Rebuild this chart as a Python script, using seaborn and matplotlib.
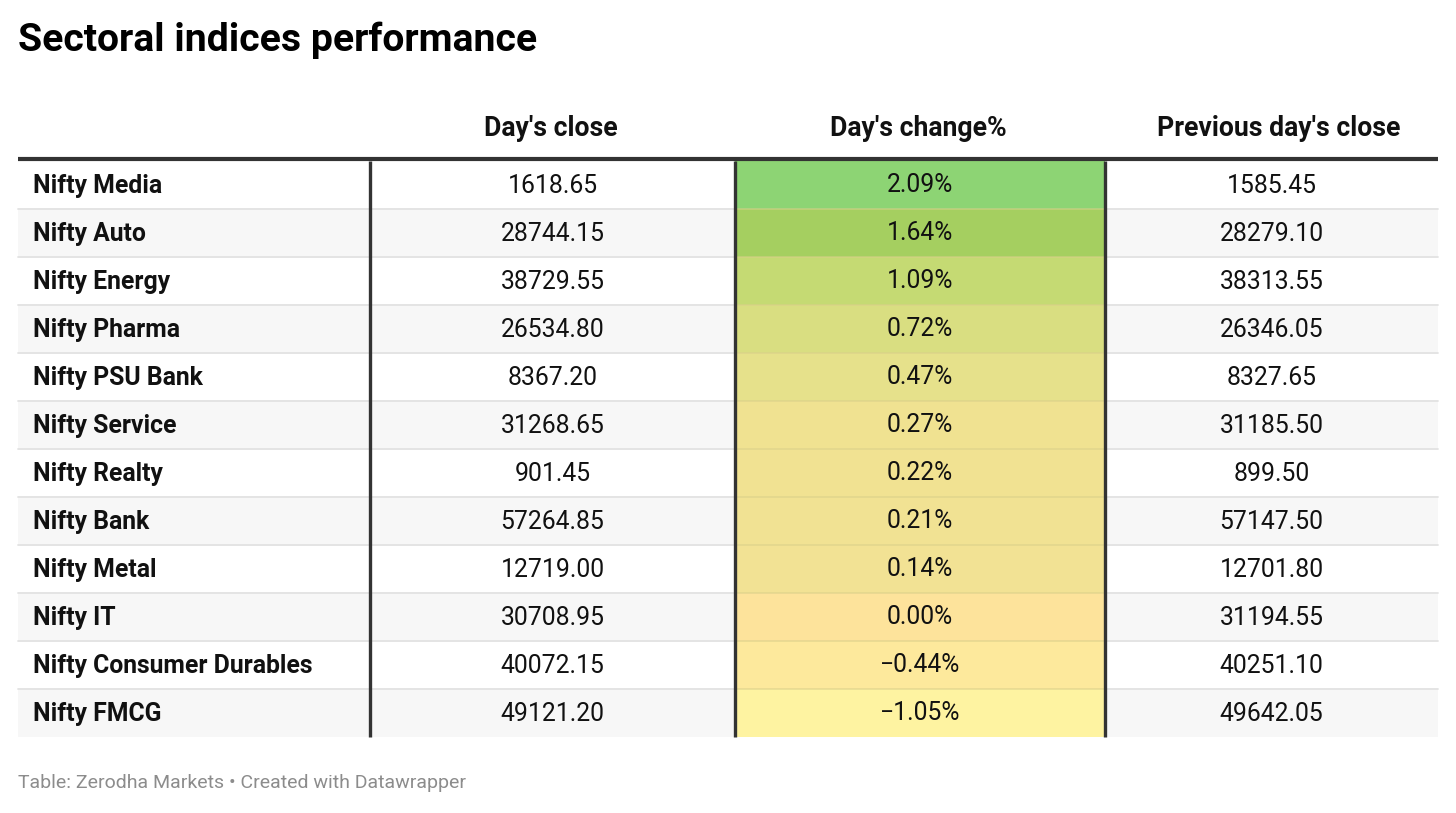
#!/usr/bin/env python3
# -*- coding: utf-8 -*-

import numpy as np
import matplotlib
matplotlib.use('Agg')
import matplotlib.pyplot as plt
from matplotlib.colors import LinearSegmentedColormap
import seaborn as sns

indices = ['Nifty Media', 'Nifty Auto', 'Nifty Energy', 'Nifty Pharma',
           'Nifty PSU Bank', 'Nifty Service', 'Nifty Realty', 'Nifty Bank',
           'Nifty Metal', 'Nifty IT', 'Nifty Consumer Durables', 'Nifty FMCG']
days_close = [1618.65, 28744.15, 38729.55, 26534.80, 8367.20, 31268.65,
              901.45, 57264.85, 12719.00, 30708.95, 40072.15, 49121.20]
days_change = [2.09, 1.64, 1.09, 0.72, 0.47, 0.27, 0.22, 0.21, 0.14, 0.00,
               -0.44, -1.05]
prev_close = [1585.45, 28279.10, 38313.55, 26346.05, 8327.65, 31185.50,
              899.50, 57147.50, 12701.80, 31194.55, 40251.10, 49642.05]
headers = ["Day's close", "Day's change%", "Previous day's close"]

title = 'Sectoral indices performance'
footer = 'Table: Zerodha Markets \u2022 Created with Datawrapper'

W, H = 1456, 813
sns.set_theme(style='white')
plt.rcParams['font.family'] = ['Roboto', 'DejaVu Sans']

# table geometry in pixels
left, right = 18, 1438
col_edges = [left, 370, 735, 1105, right]
header_shift = [-2, -2, 7]
top, row_h = 161, 48
n = len(indices)
bottom = top + n * row_h

fig = plt.figure(figsize=(W / 100, H / 100), dpi=100)
ax = fig.add_axes([0, 0, 1, 1])
ax.set_xlim(0, W)
ax.set_ylim(H, 0)
ax.axis('off')

# row stripes and separators
for i in range(n):
    y0 = top + i * row_h
    if i % 2 == 1:
        ax.add_patch(plt.Rectangle((left, y0), right - left, row_h,
                                   color='#f7f7f7', lw=0, zorder=0))
    if i > 0:
        ax.plot([left, right], [y0, y0], color='#e2e2e2', lw=1.3, zorder=1)

# heat column for day's change
cmap = LinearSegmentedColormap.from_list('dw', [
    (0.00, '#fef3a1'),
    (0.19, '#fde99c'),
    (0.34, '#fde39b'),
    (0.38, '#f2e294'),
    (0.45, '#eee28f'),
    (0.49, '#e4e18a'),
    (0.57, '#d8de80'),
    (0.69, '#c4da72'),
    (0.86, '#a5cf60'),
    (1.00, '#8dd474'),
])
hx0, hx1 = col_edges[2], col_edges[3]
hax = fig.add_axes([hx0 / W, 1 - bottom / H, (hx1 - hx0) / W, (bottom - top) / H])
change_arr = np.array(days_change).reshape(-1, 1)
labels = np.array(['%.2f%%' % v if v >= 0 else '\u2212%.2f%%' % -v
                   for v in days_change]).reshape(-1, 1)
sns.heatmap(change_arr, ax=hax, cmap=cmap, vmin=min(days_change),
            vmax=max(days_change), cbar=False, annot=labels, fmt='',
            annot_kws={'fontsize': 17.8, 'color': '#111111'},
            linewidths=0, xticklabels=False, yticklabels=False)
for i in range(1, n):
    hax.axhline(i, color='#d9cf8a', lw=1.2, alpha=0.6)
hax.axis('off')

# overlay for rules and text
rax = fig.add_axes([0, 0, 1, 1])
rax.set_xlim(0, W)
rax.set_ylim(H, 0)
rax.axis('off')
rax.patch.set_alpha(0)

for i in range(n):
    yc = top + (i + 0.5) * row_h + 1
    rax.text(33, yc, indices[i], fontsize=17.8, fontweight='bold',
             color='#111111', va='center', ha='left')
    rax.text((col_edges[1] + col_edges[2]) / 2, yc, '%.2f' % days_close[i],
             fontsize=17.8, color='#111111', va='center', ha='center')
    rax.text((col_edges[3] + col_edges[4]) / 2, yc, '%.2f' % prev_close[i],
             fontsize=17.8, color='#111111', va='center', ha='center')

# header
for j, h in enumerate(headers):
    xc = (col_edges[j + 1] + col_edges[j + 2]) / 2 + header_shift[j]
    rax.text(xc, 129, h, fontsize=19.2, fontweight='bold', color='#111111',
             va='center', ha='center')
rax.plot([left, right], [top - 2, top - 2], color='#333333', lw=3,
         solid_capstyle='butt')

# vertical rules
for x in col_edges[1:4]:
    rax.plot([x, x], [top, bottom], color='#333333', lw=2.4,
             solid_capstyle='butt')

rax.text(18, 40, title, fontsize=28.2, fontweight='bold', color='#000000',
         va='center', ha='left')
rax.text(18, 783, footer, fontsize=14, color='#8c8c8c', va='center',
         ha='left')

fig.savefig('out.png', dpi=100)
